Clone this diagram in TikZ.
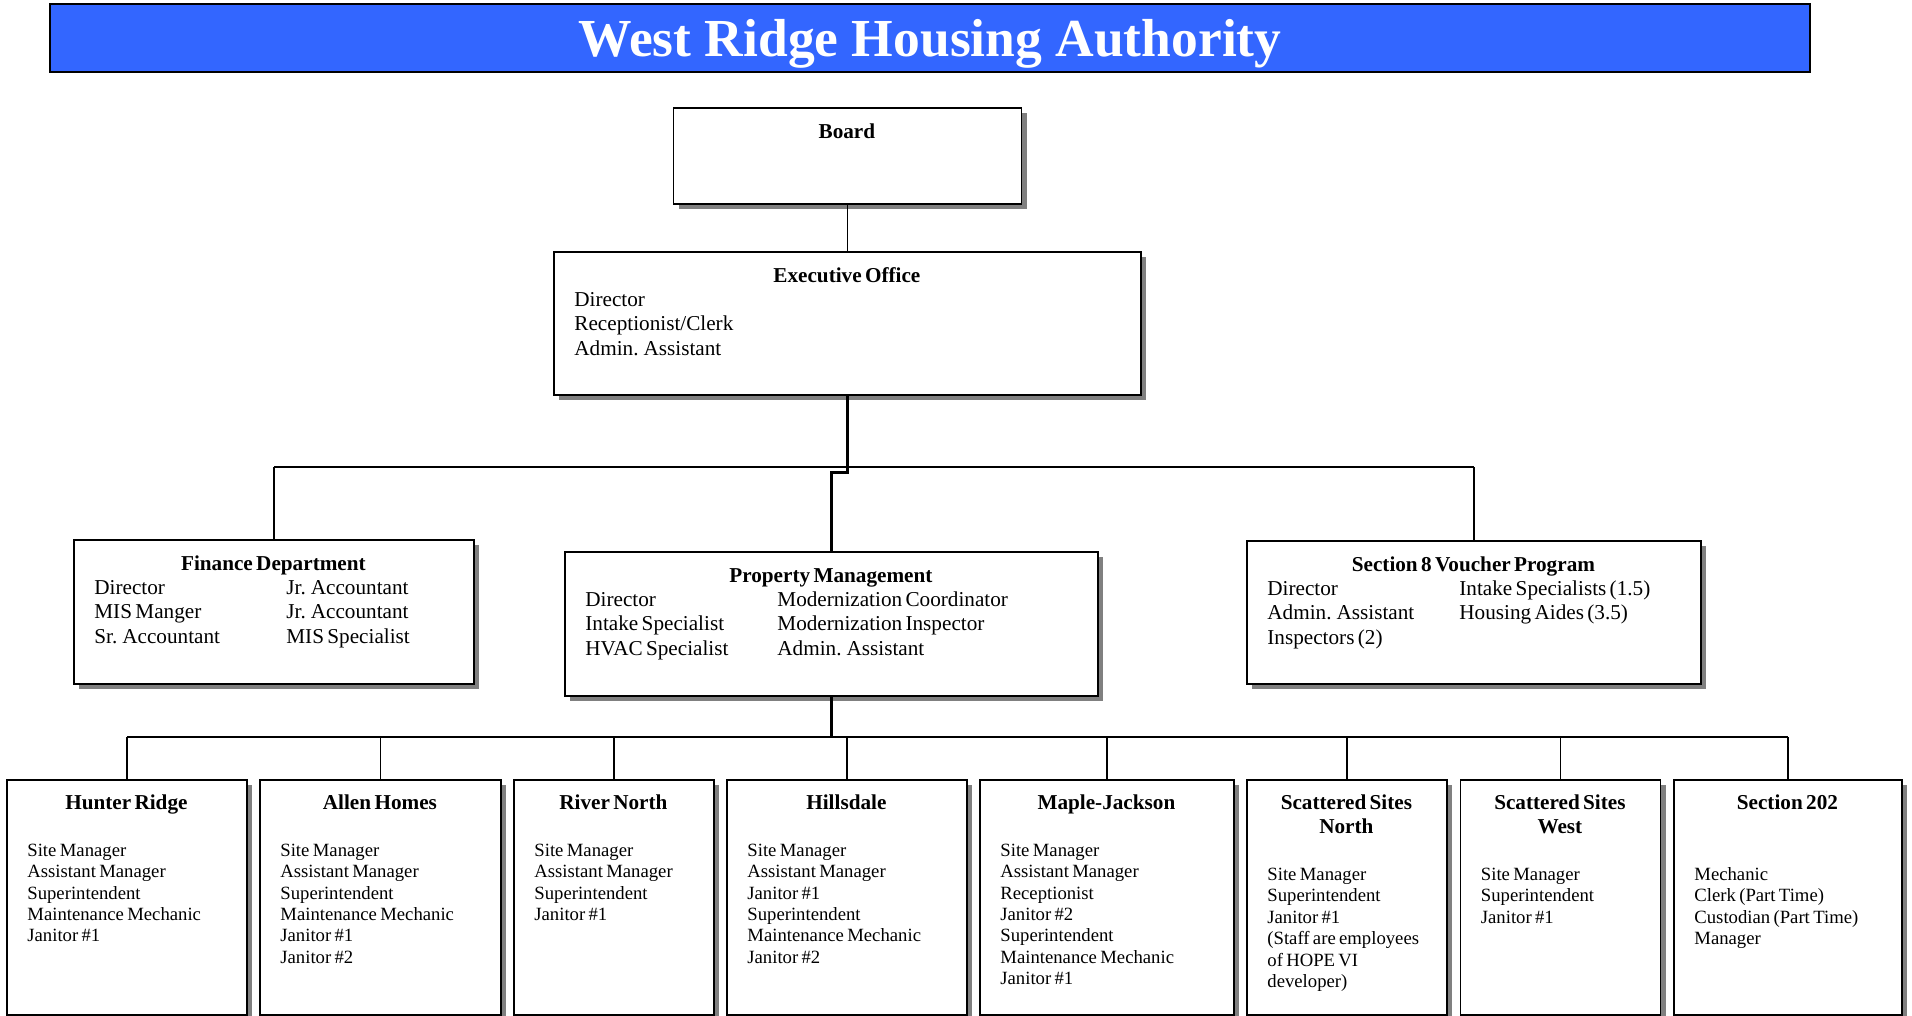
\documentclass[tikz,border=0pt]{standalone}
\usepackage{fontspec}
\setmainfont[WordSpace=1.5]{Liberation Serif}
\newfontfamily\titlefamily{Liberation Serif}
\usepackage{xcolor}
\usepackage{tikz}
\usetikzlibrary{shadows}
\definecolor{ridgeblue}{RGB}{51,102,255}
\newcommand{\headfont}{\fontsize{21.2}{24.3}\selectfont\bfseries}
\newcommand{\deptfont}{\fontsize{21.2}{24.3}\selectfont\raggedright}
\newcommand{\sitefont}{\fontsize{18.7}{21.4}\selectfont\raggedright}
\newcommand{\twocol}[2]{\makebox[192pt][l]{#1}#2}
\tikzset{
    unitbox/.style={
        rectangle, draw=black, line width=1.6pt, fill=white, inner sep=0pt, anchor=north,
        drop shadow={shadow xshift=5pt, shadow yshift=-5pt, fill=black!50, opacity=1}
    },
    boxtext/.style={
        anchor=north west, inner sep=0pt, text height=0pt
    },
    link/.style={draw, line width=1.5pt, black},
    busline/.style={draw, line width=2pt, black},
    trunk/.style={draw, line width=3pt, black}
}
% box of the upper levels: name, centre x, top y, width, height, title, staff
\newcommand{\deptunit}[7]{
    \node[unitbox, minimum width=#4, minimum height=#5] (#1) at (#2,#3) {};
    \node[boxtext, text width={#4-42}] (#1txt) at ([shift={(21,31)}]#1.north west)
        {{\headfont\centering #6\par}{\deptfont #7\par}};
}
% box of a site: name, centre x, width, title, staff
\newcommand{\siteunit}[5]{
    \node[unitbox, minimum width=#3, minimum height=235] (#1) at (#2,779) {};
    \node[boxtext, text width={#3-42}] (#1txt) at ([shift={(21,30)}]#1.north west)
        {{\headfont\centering #4\par}\vspace{25.6pt}{\sitefont #5\par}};
}

\begin{document}
\begin{tikzpicture}[x=1pt, y=-1pt,
                titlebar/.style={
                    rectangle, draw=black, line width=2.5pt, fill=ridgeblue, text=white,
                    minimum width=1760, minimum height=68, inner sep=0pt,
                    font=\titlefamily\fontsize{53.5}{60}\selectfont\bfseries, text height=37pt, text depth=0pt
                }
            ]
    \useasboundingbox (0,0) rectangle (1912,1016);

    % --- TITLE ---
    \node[titlebar] (title) at (930,38) {West Ridge Housing Authority};

    % --- BOARD AND EXECUTIVE ---
    \deptunit{board}{847.5}{107}{348}{96}{Board}{}
    \deptunit{exec}{847.5}{251}{587}{143}{Executive Office}
        {Director\\Receptionist/Clerk\\Admin. Assistant}

    % --- DEPARTMENTS ---
    \deptunit{fin}{274}{539}{400}{144}{Finance Department}
        {\twocol{Director}{Jr. Accountant}\\\twocol{MIS Manger}{Jr. Accountant}\\\twocol{Sr. Accountant}{MIS Specialist}}
    \deptunit{pm}{831.5}{551}{533}{144}{Property Management}
        {\twocol{Director}{Modernization Coordinator}\\\twocol{Intake Specialist}{Modernization Inspector}\\\twocol{HVAC Specialist}{Admin. Assistant}}
    \deptunit{sec8}{1474}{540}{454}{143}{Section 8 Voucher Program}
        {\twocol{Director}{Intake Specialists (1.5)}\\\twocol{Admin. Assistant}{Housing Aides (3.5)}\\Inspectors (2)}

    % --- SITES ---
    \siteunit{hunter}{127}{240}{Hunter Ridge}
        {Site Manager\\Assistant Manager\\Superintendent\\Maintenance Mechanic\\Janitor \#1}
    \siteunit{allen}{380.5}{241}{Allen Homes}
        {Site Manager\\Assistant Manager\\Superintendent\\Maintenance Mechanic\\Janitor \#1\\Janitor \#2}
    \siteunit{river}{614}{200}{River North}
        {Site Manager\\Assistant Manager\\Superintendent\\Janitor \#1}
    \siteunit{hills}{847}{240}{Hillsdale}
        {Site Manager\\Assistant Manager\\Janitor \#1\\Superintendent\\Maintenance Mechanic\\Janitor \#2}
    \siteunit{maple}{1107}{254}{Maple-Jackson}
        {Site Manager\\Assistant Manager\\Receptionist\\Janitor \#2\\Superintendent\\Maintenance Mechanic\\Janitor \#1}
    \siteunit{ssn}{1347}{200}{Scattered Sites\\North}
        {Site Manager\\Superintendent\\Janitor \#1\\(Staff are employees\\of HOPE VI\\developer)}
    \siteunit{ssw}{1560.5}{200}{Scattered Sites\\West}
        {Site Manager\\Superintendent\\Janitor \#1}
    \siteunit{sec202}{1788}{228}{Section 202\\\mbox{}}
        {Mechanic\\Clerk (Part Time)\\Custodian (Part Time)\\Manager}

    % --- CONNECTORS ---
    \coordinate (midbus) at (847.5,467);
    \coordinate (jog) at (847.5,472);
    \coordinate (lowbus) at (831.5,737);

    \draw[link] (board) -- (exec);
    \draw[trunk] (exec.south) -- (jog) -| (pm.north);
    \draw[busline] (fin.north |- midbus) -- (sec8.north |- midbus);
    \draw[link] (fin.north) -- (fin.north |- midbus);
    \draw[link] (sec8.north) -- (sec8.north |- midbus);

    \draw[trunk] (pm.south) -- (pm.south |- lowbus);
    \draw[busline] (hunter.north |- lowbus) -- (sec202.north |- lowbus);
    \foreach \u in {hunter,allen,river,hills,maple,ssn,ssw,sec202}
        \draw[link] (\u.north) -- (\u.north |- lowbus);

\end{tikzpicture}
\end{document}
